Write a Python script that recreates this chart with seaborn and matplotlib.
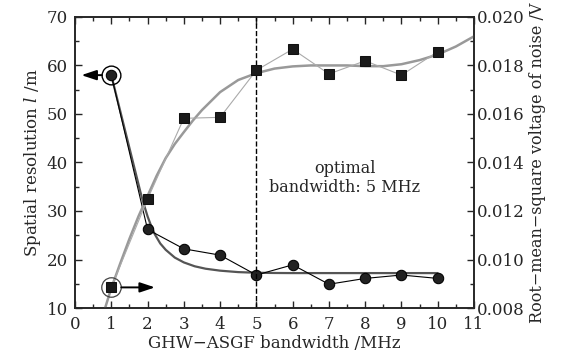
import matplotlib
matplotlib.use("Agg")
import matplotlib.pyplot as plt
import seaborn as sns
from matplotlib.ticker import MultipleLocator

# measured points
bandwidth = [1, 2, 3, 4, 5, 6, 7, 8, 9, 10]
resolution = [58.0, 26.2, 22.2, 20.9, 16.8, 18.9, 14.9, 16.1, 16.8, 16.1]
noise_rms = [0.00885, 0.01249, 0.01582, 0.01586, 0.0178, 0.01867,
             0.01765, 0.01819, 0.0176, 0.01857]

# fitted curves
res_fit_x = [1.0, 1.2, 1.4, 1.6, 1.8, 1.9, 2.0, 2.1, 2.2, 2.35, 2.5, 2.75,
             3.0, 3.3, 3.6, 4.0, 4.5, 5.0, 5.5, 6.0, 7.0, 8.0, 9.0, 10.0]
res_fit_y = [58.0, 52.0, 46.0, 40.0, 34.0, 31.3, 28.9, 26.9, 25.2, 23.3,
             22.0, 20.4, 19.4, 18.6, 18.1, 17.7, 17.4, 17.27, 17.22, 17.2,
             17.2, 17.2, 17.2, 17.2]
noise_fit_x = [0.83, 1.0, 1.25, 1.5, 1.75, 2.0, 2.25, 2.5, 2.75, 3.0, 3.25,
               3.5, 4.0, 4.5, 5.0, 5.5, 6.0, 6.5, 7.0, 7.5, 8.0, 8.5, 9.0,
               9.5, 10.0, 10.5, 11.0]
noise_fit_y = [0.0080, 0.00882, 0.00985, 0.01085, 0.01178, 0.01262, 0.01345,
               0.01418, 0.01476, 0.01525, 0.01573, 0.01616, 0.0169, 0.0174,
               0.01768, 0.01787, 0.01796, 0.018, 0.018, 0.018, 0.01797,
               0.01797, 0.01805, 0.01822, 0.01845, 0.01878, 0.0192]

optimal_bw = 5

sns.set_style("ticks")
plt.rcParams["font.family"] = ["DejaVu Serif"]
plt.rcParams["mathtext.fontset"] = "dejavuserif"

fig = plt.figure(figsize=(5.7, 3.6), dpi=100)
ax = fig.add_axes([0.1316, 0.1444, 0.7, 0.8086])
ax2 = ax.twinx()

# spatial resolution (left axis)
sns.lineplot(x=res_fit_x, y=res_fit_y, ax=ax, color="#555555", linewidth=1.6)
sns.lineplot(x=bandwidth, y=resolution, ax=ax, color="black", linewidth=0.8,
             marker="o", markersize=7.5, markeredgecolor="black",
             markerfacecolor="#222222")

# noise voltage (right axis)
sns.lineplot(x=noise_fit_x, y=noise_fit_y, ax=ax2, color="#999999",
             linewidth=1.8)
sns.lineplot(x=bandwidth, y=noise_rms, ax=ax2, color="#aaaaaa", linewidth=0.8,
             marker="s", markersize=7, markeredgecolor="#111111",
             markerfacecolor="#1a1a1a")

ax.axvline(optimal_bw, color="black", linestyle="--", linewidth=1.0)

ax.set_xlim(0, 11)
ax.set_ylim(10, 70)
ax2.set_ylim(0.008, 0.020)

# ring + arrow markers
ax.plot([bandwidth[0]], [resolution[0]], marker="o", markersize=13.5,
        markerfacecolor="none", markeredgecolor="black", markeredgewidth=1.0)
ax.annotate("", xy=(0.1, resolution[0]), xytext=(0.82, resolution[0]),
            arrowprops=dict(arrowstyle="-|>,head_length=0.9,head_width=0.3",
                            color="black", lw=1.4))
ax2.plot([bandwidth[0]], [noise_rms[0]], marker="o", markersize=14,
         markerfacecolor="none", markeredgecolor="#444444",
         markeredgewidth=0.9)
ax2.annotate("", xy=(2.28, noise_rms[0]), xytext=(1.2, noise_rms[0]),
             arrowprops=dict(arrowstyle="-|>,head_length=0.9,head_width=0.3",
                             color="black", lw=1.4))

ax.text(7.44, 36.8, "optimal\nbandwidth: 5 MHz", ha="center", va="center",
        fontsize=11.5, linespacing=1.15)

ax.set_xlabel("GHW\u2212ASGF bandwidth /MHz", fontsize=12, labelpad=1)
ax.set_ylabel("Spatial resolution $l$ /m", fontsize=12, labelpad=3)
ax2.set_ylabel("Root\u2212mean\u2212square voltage of noise /V",
               fontsize=11.5, labelpad=3)

ax.xaxis.set_major_locator(MultipleLocator(1))
ax.xaxis.set_minor_locator(MultipleLocator(0.5))
ax.yaxis.set_major_locator(MultipleLocator(10))
ax.yaxis.set_minor_locator(MultipleLocator(5))
ax2.yaxis.set_major_locator(MultipleLocator(0.002))
ax2.yaxis.set_minor_locator(MultipleLocator(0.001))
ax2.yaxis.set_major_formatter(plt.FormatStrFormatter("%.3f"))

for a in (ax, ax2):
    a.tick_params(which="both", direction="in", labelsize=12, width=1.0)
    a.tick_params(which="major", length=5)
    a.tick_params(which="minor", length=3)
    for s in a.spines.values():
        s.set_visible(True)
        s.set_linewidth(1.2)
ax.tick_params(top=True, which="both")
ax.tick_params(axis="x", pad=6)
ax.tick_params(axis="y", pad=5)
ax2.tick_params(axis="y", pad=2)

fig.savefig("out.png", dpi=100, facecolor="white")
